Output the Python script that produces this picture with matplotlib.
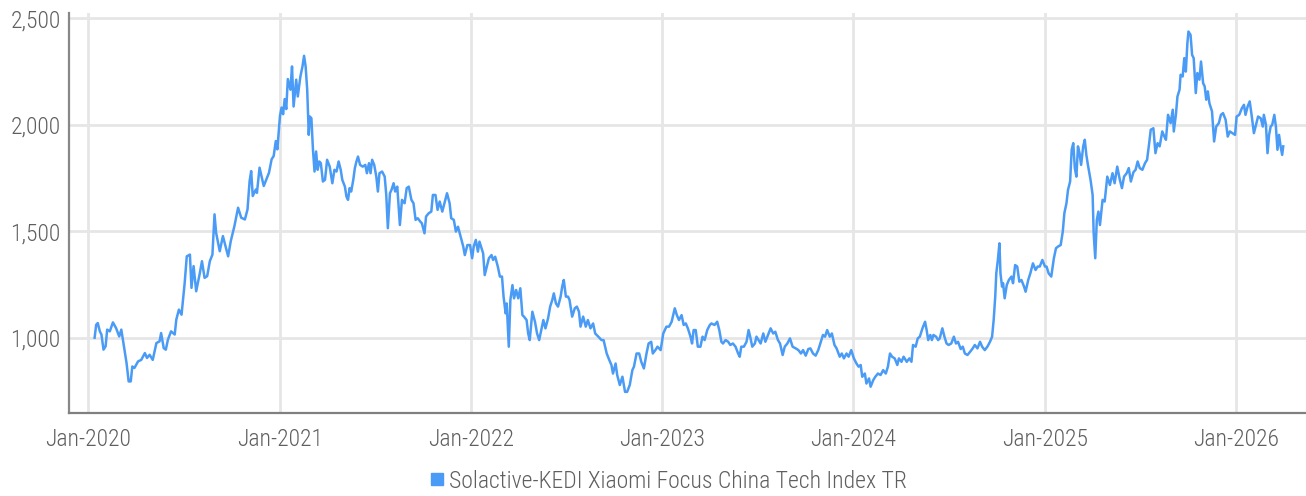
import matplotlib
matplotlib.use("Agg")
import matplotlib.pyplot as plt
import matplotlib.dates as mdates
from matplotlib import font_manager
from matplotlib.lines import Line2D
import pandas as pd

# Index levels, one list pair per year
dates_2020 = ["2020-01-13", "2020-01-16", "2020-01-19", "2020-01-23", "2020-01-26", "2020-01-30", "2020-02-03", "2020-02-06",
              "2020-02-11", "2020-02-17", "2020-02-23", "2020-02-29", "2020-03-04", "2020-03-10", "2020-03-14", "2020-03-18",
              "2020-03-22", "2020-03-25", "2020-03-29", "2020-04-05", "2020-04-11", "2020-04-18", "2020-04-22", "2020-04-27",
              "2020-05-03", "2020-05-10", "2020-05-16", "2020-05-19", "2020-05-24", "2020-05-28", "2020-06-01", "2020-06-07",
              "2020-06-14", "2020-06-17", "2020-06-22", "2020-06-27", "2020-07-03", "2020-07-07", "2020-07-13", "2020-07-16",
              "2020-07-20", "2020-07-25", "2020-08-01", "2020-08-05", "2020-08-10", "2020-08-15", "2020-08-20", "2020-08-25",
              "2020-08-29", "2020-09-01", "2020-09-08", "2020-09-14", "2020-09-19", "2020-09-24", "2020-09-29", "2020-10-06",
              "2020-10-13", "2020-10-19", "2020-10-26", "2020-10-31", "2020-11-04", "2020-11-07", "2020-11-10", "2020-11-16",
              "2020-11-18", "2020-11-23", "2020-11-26", "2020-12-01", "2020-12-06", "2020-12-11", "2020-12-16", "2020-12-20",
              "2020-12-24", "2020-12-27"]
values_2020 = [1000, 1061, 1069, 1030, 1015, 944, 960, 1038,
               1030, 1072, 1045, 1006, 1038, 944, 881, 795,
               795, 865, 858, 889, 896, 928, 905, 920,
               896, 975, 983, 1022, 951, 944, 991, 1030,
               1015, 1085, 1132, 1108, 1257, 1382, 1390, 1234,
               1336, 1218, 1304, 1359, 1281, 1289, 1359, 1390,
               1579, 1493, 1406, 1477, 1430, 1382, 1453, 1524,
               1610, 1563, 1555, 1602, 1735, 1782, 1665, 1696,
               1680, 1798, 1766, 1712, 1743, 1774, 1837, 1853,
               1923, 1884]

dates_2021 = ["2021-01-01", "2021-01-04", "2021-01-07", "2021-01-10", "2021-01-13", "2021-01-16", "2021-01-21", "2021-01-24",
              "2021-01-27", "2021-02-01", "2021-02-04", "2021-02-09", "2021-02-13", "2021-02-16", "2021-02-19", "2021-02-22",
              "2021-02-25", "2021-02-27", "2021-03-02", "2021-03-05", "2021-03-08", "2021-03-11", "2021-03-14", "2021-03-17",
              "2021-03-20", "2021-03-24", "2021-03-28", "2021-04-01", "2021-04-06", "2021-04-11", "2021-04-15", "2021-04-19",
              "2021-04-23", "2021-04-27", "2021-04-30", "2021-05-05", "2021-05-08", "2021-05-11", "2021-05-14", "2021-05-17",
              "2021-05-21", "2021-05-24", "2021-05-27", "2021-05-30", "2021-06-03", "2021-06-08", "2021-06-13", "2021-06-16",
              "2021-06-20", "2021-06-23", "2021-06-26", "2021-06-30", "2021-07-04", "2021-07-07", "2021-07-10", "2021-07-15",
              "2021-07-20", "2021-07-23", "2021-07-26", "2021-07-30", "2021-08-02", "2021-08-06", "2021-08-09", "2021-08-13",
              "2021-08-18", "2021-08-22", "2021-08-27", "2021-08-31", "2021-09-04", "2021-09-09", "2021-09-13", "2021-09-17",
              "2021-09-21", "2021-09-26", "2021-09-29", "2021-10-04", "2021-10-07", "2021-10-12", "2021-10-17", "2021-10-20",
              "2021-10-25", "2021-10-29", "2021-11-02", "2021-11-07", "2021-11-12", "2021-11-16", "2021-11-21", "2021-11-24",
              "2021-11-29", "2021-12-03", "2021-12-07", "2021-12-12", "2021-12-17", "2021-12-20", "2021-12-25", "2021-12-30"]
values_2021 = [2041, 2080, 2049, 2120, 2073, 2214, 2164, 2273,
               2085, 2211, 2132, 2226, 2273, 2323, 2273, 2164,
               1952, 2038, 2030, 1882, 1780, 1874, 1788, 1827,
               1819, 1733, 1741, 1835, 1803, 1725, 1788, 1780,
               1827, 1788, 1741, 1709, 1662, 1647, 1702, 1686,
               1741, 1796, 1827, 1850, 1811, 1803, 1811, 1772,
               1819, 1772, 1835, 1811, 1756, 1686, 1772, 1780,
               1756, 1670, 1514, 1678, 1694, 1725, 1686, 1709,
               1529, 1647, 1631, 1702, 1709, 1647, 1631, 1553,
               1561, 1545, 1537, 1490, 1569, 1584, 1592, 1670,
               1670, 1600, 1639, 1592, 1639, 1678, 1631, 1561,
               1553, 1498, 1521, 1474, 1428, 1388, 1435, 1435]

dates_2022 = ["2022-01-03", "2022-01-06", "2022-01-10", "2022-01-14", "2022-01-17", "2022-01-24", "2022-01-27", "2022-01-31",
              "2022-02-04", "2022-02-09", "2022-02-12", "2022-02-16", "2022-02-21", "2022-02-25", "2022-03-01", "2022-03-04",
              "2022-03-08", "2022-03-10", "2022-03-14", "2022-03-17", "2022-03-21", "2022-03-24", "2022-03-28", "2022-04-01",
              "2022-04-05", "2022-04-09", "2022-04-12", "2022-04-17", "2022-04-20", "2022-04-23", "2022-04-28", "2022-05-03",
              "2022-05-07", "2022-05-11", "2022-05-15", "2022-05-19", "2022-05-23", "2022-05-28", "2022-06-01", "2022-06-05",
              "2022-06-08", "2022-06-12", "2022-06-16", "2022-06-21", "2022-06-24", "2022-06-27", "2022-07-01", "2022-07-05",
              "2022-07-08", "2022-07-13", "2022-07-18", "2022-07-22", "2022-07-26", "2022-07-29", "2022-08-03", "2022-08-08",
              "2022-08-12", "2022-08-17", "2022-08-22", "2022-08-26", "2022-09-01", "2022-09-07", "2022-09-11", "2022-09-17",
              "2022-09-22", "2022-09-26", "2022-09-29", "2022-10-04", "2022-10-07", "2022-10-12", "2022-10-17", "2022-10-22",
              "2022-10-26", "2022-10-31", "2022-11-05", "2022-11-08", "2022-11-13", "2022-11-18", "2022-11-22", "2022-11-27",
              "2022-12-02", "2022-12-06", "2022-12-11", "2022-12-14", "2022-12-19", "2022-12-23", "2022-12-29"]
values_2022 = [1373, 1428, 1459, 1404, 1451, 1396, 1294, 1334,
               1373, 1388, 1365, 1380, 1334, 1287, 1287, 1193,
               1114, 1161, 958, 1177, 1247, 1185, 1224, 1185,
               1232, 1106, 1099, 1083, 1020, 989, 1122, 1075,
               1020, 989, 1036, 1083, 1044, 1091, 1146, 1177,
               1208, 1161, 1146, 1193, 1240, 1271, 1193, 1193,
               1177, 1099, 1138, 1146, 1122, 1052, 1099, 1052,
               1083, 1044, 1067, 1020, 1005, 989, 989, 926,
               895, 872, 832, 879, 825, 778, 817, 746,
               746, 778, 848, 864, 926, 926, 887, 856,
               926, 973, 981, 926, 942, 958, 942]

dates_2023 = ["2023-01-03", "2023-01-09", "2023-01-14", "2023-01-19", "2023-01-25", "2023-01-29", "2023-02-02", "2023-02-07",
              "2023-02-11", "2023-02-15", "2023-02-19", "2023-02-24", "2023-02-27", "2023-03-02", "2023-03-06", "2023-03-10",
              "2023-03-15", "2023-03-19", "2023-03-23", "2023-03-28", "2023-04-02", "2023-04-05", "2023-04-11", "2023-04-16",
              "2023-04-20", "2023-04-24", "2023-04-27", "2023-05-02", "2023-05-07", "2023-05-11", "2023-05-16", "2023-05-21",
              "2023-05-26", "2023-05-29", "2023-06-01", "2023-06-06", "2023-06-11", "2023-06-15", "2023-06-18", "2023-06-22",
              "2023-06-27", "2023-06-30", "2023-07-04", "2023-07-08", "2023-07-13", "2023-07-17", "2023-07-22", "2023-07-27",
              "2023-08-01", "2023-08-05", "2023-08-10", "2023-08-14", "2023-08-19", "2023-08-23", "2023-08-28", "2023-09-02",
              "2023-09-07", "2023-09-13", "2023-09-18", "2023-09-23", "2023-09-27", "2023-10-02", "2023-10-07", "2023-10-11",
              "2023-10-16", "2023-10-21", "2023-10-26", "2023-10-30", "2023-11-04", "2023-11-08", "2023-11-12", "2023-11-17",
              "2023-11-21", "2023-11-26", "2023-11-30", "2023-12-06", "2023-12-10", "2023-12-14", "2023-12-19", "2023-12-23",
              "2023-12-28"]
values_2023 = [1020, 1052, 1052, 1075, 1138, 1106, 1083, 1106,
               1060, 1067, 1044, 1005, 973, 1036, 1036, 958,
               958, 1005, 989, 1036, 1060, 1067, 1060, 1075,
               1036, 981, 973, 989, 981, 966, 973, 958,
               926, 911, 958, 958, 981, 1036, 1005, 958,
               973, 1005, 989, 973, 1020, 981, 1013, 1044,
               1020, 1028, 989, 973, 919, 958, 973, 997,
               958, 950, 942, 926, 942, 916, 947, 950,
               926, 916, 942, 973, 1013, 1005, 1036, 1005,
               1020, 966, 950, 911, 926, 903, 926, 911,
               942]

dates_2024 = ["2024-01-02", "2024-01-07", "2024-01-11", "2024-01-15", "2024-01-18", "2024-01-23", "2024-01-26", "2024-01-31",
              "2024-02-03", "2024-02-08", "2024-02-12", "2024-02-17", "2024-02-22", "2024-02-27", "2024-03-03", "2024-03-07",
              "2024-03-11", "2024-03-15", "2024-03-20", "2024-03-25", "2024-03-28", "2024-04-02", "2024-04-06", "2024-04-12",
              "2024-04-17", "2024-04-21", "2024-04-24", "2024-04-29", "2024-05-03", "2024-05-07", "2024-05-12", "2024-05-17",
              "2024-05-20", "2024-05-23", "2024-05-27", "2024-05-30", "2024-06-02", "2024-06-07", "2024-06-11", "2024-06-14",
              "2024-06-19", "2024-06-23", "2024-06-27", "2024-07-01", "2024-07-06", "2024-07-11", "2024-07-15", "2024-07-19",
              "2024-07-24", "2024-07-28", "2024-08-01", "2024-08-06", "2024-08-11", "2024-08-16", "2024-08-20", "2024-08-25",
              "2024-08-30", "2024-09-03", "2024-09-08", "2024-09-13", "2024-09-18", "2024-09-22", "2024-09-25", "2024-09-28",
              "2024-09-30", "2024-10-03", "2024-10-06", "2024-10-08", "2024-10-11", "2024-10-13", "2024-10-16", "2024-10-20",
              "2024-10-24", "2024-10-29", "2024-11-01", "2024-11-05", "2024-11-09", "2024-11-13", "2024-11-17", "2024-11-22",
              "2024-11-25", "2024-11-30", "2024-12-04", "2024-12-09", "2024-12-14", "2024-12-18", "2024-12-22", "2024-12-27"]
values_2024 = [903, 879, 864, 872, 817, 832, 785, 809,
               770, 801, 817, 832, 825, 848, 832, 864,
               926, 911, 903, 872, 903, 887, 911, 887,
               903, 887, 966, 958, 997, 1005, 1044, 1075,
               1036, 989, 1013, 989, 1013, 1005, 989, 997,
               1044, 1005, 973, 966, 973, 1005, 973, 981,
               947, 958, 926, 919, 934, 950, 966, 950,
               981, 958, 942, 958, 981, 1005, 1083, 1193,
               1302, 1365, 1443, 1302, 1240, 1256, 1185, 1247,
               1271, 1287, 1256, 1341, 1334, 1263, 1271, 1240,
               1216, 1271, 1302, 1349, 1318, 1334, 1334, 1365]

dates_2025 = ["2025-01-01", "2025-01-04", "2025-01-08", "2025-01-13", "2025-01-18", "2025-01-22", "2025-01-26", "2025-01-31",
              "2025-02-04", "2025-02-07", "2025-02-11", "2025-02-14", "2025-02-18", "2025-02-21", "2025-02-24", "2025-02-27",
              "2025-03-02", "2025-03-05", "2025-03-08", "2025-03-11", "2025-03-15", "2025-03-18", "2025-03-21", "2025-03-24",
              "2025-03-29", "2025-04-02", "2025-04-04", "2025-04-07", "2025-04-10", "2025-04-13", "2025-04-16", "2025-04-21",
              "2025-04-25", "2025-04-30", "2025-05-05", "2025-05-10", "2025-05-14", "2025-05-19", "2025-05-24", "2025-05-28",
              "2025-06-01", "2025-06-06", "2025-06-10", "2025-06-14", "2025-06-19", "2025-06-23", "2025-06-27", "2025-07-01",
              "2025-07-06", "2025-07-11", "2025-07-15", "2025-07-19", "2025-07-22", "2025-07-27", "2025-07-31", "2025-08-04",
              "2025-08-08", "2025-08-13", "2025-08-17", "2025-08-20", "2025-08-24", "2025-08-29", "2025-09-02", "2025-09-04",
              "2025-09-08", "2025-09-11", "2025-09-15", "2025-09-17", "2025-09-21", "2025-09-24", "2025-09-27", "2025-09-30",
              "2025-10-02", "2025-10-06", "2025-10-09", "2025-10-12", "2025-10-16", "2025-10-19", "2025-10-23", "2025-10-26",
              "2025-10-30", "2025-11-02", "2025-11-05", "2025-11-08", "2025-11-11", "2025-11-16", "2025-11-20", "2025-11-24",
              "2025-11-29", "2025-12-03", "2025-12-07", "2025-12-12", "2025-12-16", "2025-12-20", "2025-12-25", "2025-12-30"]
values_2025 = [1334, 1334, 1302, 1287, 1373, 1420, 1428, 1435,
               1498, 1584, 1631, 1694, 1733, 1882, 1913, 1796,
               1756, 1898, 1866, 1811, 1898, 1929, 1858, 1811,
               1741, 1670, 1490, 1373, 1553, 1592, 1529, 1647,
               1639, 1756, 1717, 1772, 1725, 1803, 1741, 1702,
               1756, 1772, 1796, 1733, 1777, 1788, 1827, 1796,
               1788, 1819, 1835, 1913, 1976, 1983, 1866, 1913,
               1898, 1968, 1944, 1929, 2046, 2007, 2070, 1968,
               2046, 2132, 2164, 2234, 2226, 2312, 2249, 2383,
               2437, 2421, 2327, 2312, 2148, 2242, 2211, 2296,
               2195, 2179, 2117, 2156, 2101, 2062, 1921, 1991,
               2007, 2046, 2054, 2023, 1944, 1968, 1960, 1952]

dates_2026 = ["2026-01-02", "2026-01-07", "2026-01-12", "2026-01-16", "2026-01-19", "2026-01-23", "2026-01-27", "2026-01-31",
              "2026-02-04", "2026-02-08", "2026-02-12", "2026-02-17", "2026-02-21", "2026-02-23", "2026-02-27", "2026-03-02",
              "2026-03-05", "2026-03-08", "2026-03-11", "2026-03-15", "2026-03-18", "2026-03-21", "2026-03-24", "2026-03-27",
              "2026-03-30", "2026-04-01"]
values_2026 = [2038, 2046, 2077, 2093, 2046, 2085, 2109, 2038,
               1960, 1999, 2038, 2030, 1991, 2046, 1999, 1866,
               1952, 1991, 1999, 2046, 1991, 1882, 1952, 1898,
               1858, 1898]

series_name = "Solactive-KEDI Xiaomi Focus China Tech Index TR"
y_ticks = [1000, 1500, 2000, 2500]

dates = dates_2020 + dates_2021 + dates_2022 + dates_2023 + dates_2024 + dates_2025 + dates_2026
values = values_2020 + values_2021 + values_2022 + values_2023 + values_2024 + values_2025 + values_2026
assert len(dates) == len(values)
dates = pd.to_datetime(dates)

# Pick a narrow font if one is installed
available = {f.name for f in font_manager.fontManager.ttflist}
font = "DejaVu Sans"
size = 14
for cand, sz in [("Roboto Condensed", 17), ("Liberation Sans Narrow", 16), ("Roboto", 15.5)]:
    if cand in available:
        font, size = cand, sz
        break
plt.rcParams["font.family"] = [font, "DejaVu Sans"]

line_color = "#4A9BF6"
text_color = "#5f5f5f"
grid_color = "#e6e6e6"

fig = plt.figure(figsize=(13.06, 4.96), dpi=100)
ax = fig.add_axes([0.0528, 0.167, 0.947, 0.806])

ax.plot(dates, values, color=line_color, linewidth=1.8, solid_joinstyle="round")

ax.set_xlim(pd.Timestamp("2019-11-25"), pd.Timestamp("2026-05-14"))
ax.set_ylim(646, 2522)

ax.xaxis.set_major_locator(mdates.YearLocator())
ax.xaxis.set_major_formatter(mdates.DateFormatter("%b-%Y"))
ax.set_yticks(y_ticks)
ax.yaxis.set_major_formatter(matplotlib.ticker.StrMethodFormatter("{x:,.0f}"))

ax.grid(True, color=grid_color, linewidth=2.0)
ax.set_axisbelow(True)
ax.tick_params(length=0, labelsize=size, labelcolor=text_color)
ax.tick_params(axis="x", pad=11)
ax.tick_params(axis="y", pad=6)
for lab in ax.get_xticklabels() + ax.get_yticklabels():
    lab.set_fontweight("light")

for side in ["top", "right"]:
    ax.spines[side].set_visible(False)
ax.spines["left"].set_color("#888888")
ax.spines["bottom"].set_color("#808080")
ax.spines["left"].set_linewidth(1.6)
ax.spines["bottom"].set_linewidth(1.6)

handle = Line2D([], [], marker="s", linestyle="none", markersize=8,
                markerfacecolor=line_color, markeredgecolor=line_color)
leg = fig.legend([handle], [series_name], loc="center", bbox_to_anchor=(0.511, 0.030),
                 frameon=False, handletextpad=0.1, handlelength=0.8,
                 prop={"size": size, "weight": "light"})
for t in leg.get_texts():
    t.set_color(text_color)

fig.savefig("out.png", dpi=100)
